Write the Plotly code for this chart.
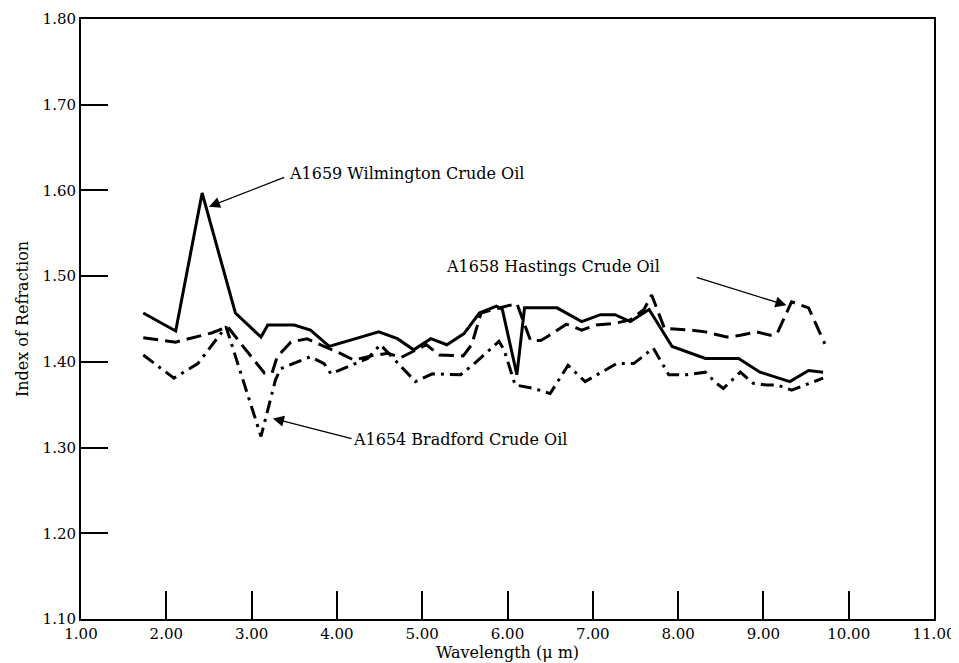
import plotly.graph_objects as go

# ---- data ----
wil_x = [1.73, 2.11, 2.42, 2.81, 3.11, 3.19, 3.50, 3.69, 3.91, 4.49, 4.71, 4.90, 5.10, 5.29, 5.49,
         5.67, 5.87, 5.94, 6.11, 6.20, 6.58, 6.87, 7.09, 7.26, 7.44, 7.66, 7.93, 8.32, 8.71, 8.96,
         9.31, 9.53, 9.70]
wil_y = [1.457, 1.436, 1.597, 1.457, 1.429, 1.443, 1.443, 1.437, 1.418, 1.435, 1.427, 1.414, 1.427,
         1.420, 1.433, 1.457, 1.465, 1.461, 1.385, 1.463, 1.463, 1.447, 1.455, 1.455, 1.447, 1.461,
         1.418, 1.404, 1.404, 1.388, 1.377, 1.390, 1.388]

has_x = [1.73, 2.11, 2.54, 2.72, 2.90, 3.15, 3.24, 3.30, 3.46, 3.65, 3.85, 4.04, 4.20, 4.40, 4.60,
         4.75, 4.95, 5.05, 5.20, 5.48, 5.58, 5.69, 5.87, 6.11, 6.27, 6.39, 6.46, 6.69, 6.87, 7.04,
         7.26, 7.44, 7.60, 7.69, 7.84, 8.15, 8.32, 8.57, 8.73, 8.92, 9.08, 9.16, 9.33, 9.53, 9.72]
has_y = [1.428, 1.423, 1.434, 1.441, 1.418, 1.387, 1.387, 1.406, 1.423, 1.427, 1.418, 1.410, 1.402,
         1.407, 1.410, 1.405, 1.415, 1.420, 1.408, 1.407, 1.420, 1.457, 1.462, 1.468, 1.425, 1.425,
         1.429, 1.444, 1.437, 1.443, 1.445, 1.449, 1.461, 1.478, 1.439, 1.437, 1.435, 1.429, 1.431,
         1.435, 1.431, 1.433, 1.470, 1.463, 1.421]

bra_x = [1.73, 2.09, 2.37, 2.70, 3.11, 3.28, 3.34, 3.69, 3.85, 3.93, 4.36, 4.51, 4.92, 5.12, 5.45,
         5.60, 5.90, 5.96, 6.09, 6.31, 6.50, 6.71, 6.91, 7.11, 7.28, 7.48, 7.71, 7.89, 8.10, 8.32,
         8.45, 8.53, 8.73, 8.88, 9.04, 9.16, 9.33, 9.70]
bra_y = [1.408, 1.381, 1.398, 1.441, 1.313, 1.379, 1.392, 1.406, 1.398, 1.386, 1.404, 1.420, 1.377,
         1.386, 1.385, 1.397, 1.424, 1.414, 1.373, 1.369, 1.363, 1.396, 1.377, 1.388, 1.398, 1.398,
         1.416, 1.385, 1.385, 1.388, 1.375, 1.369, 1.388, 1.375, 1.373, 1.373, 1.367, 1.381]

x_ticks = [1, 2, 3, 4, 5, 6, 7, 8, 9, 10, 11]
x_tick_labels = ["1.00", "2.00", "3.00", "4.00", "5.00", "6.00", "7.00", "8.00", "9.00", "10.00", "11.00"]
y_ticks = [1.1, 1.2, 1.3, 1.4, 1.5, 1.6, 1.7, 1.8]
y_tick_labels = ["1.10", "1.20", "1.30", "1.40", "1.50", "1.60", "1.70", "1.80"]

FONT = "DejaVu Serif"
INK = "#000000"

fig = go.Figure()
fig.add_trace(go.Scatter(x=wil_x, y=wil_y, mode="lines",
                         line=dict(color=INK, width=3), name="A1659 Wilmington Crude Oil"))
fig.add_trace(go.Scatter(x=has_x, y=has_y, mode="lines",
                         line=dict(color=INK, width=3, dash="15px,7px"), name="A1658 Hastings Crude Oil"))
fig.add_trace(go.Scatter(x=bra_x, y=bra_y, mode="lines",
                         line=dict(color=INK, width=3, dash="13px,6px,3px,6px"), name="A1654 Bradford Crude Oil"))

# arrows (head at x,y; tail at ax,ay in data units)
arrows = [
    dict(x=2.50, y=1.581, ax=3.40, ay=1.616),
    dict(x=9.27, y=1.466, ax=8.20, ay=1.499),
    dict(x=3.25, y=1.334, ax=4.19, ay=1.310),
]
for a in arrows:
    fig.add_annotation(x=a["x"], y=a["y"], ax=a["ax"], ay=a["ay"], xref="x", yref="y",
                       axref="x", ayref="y", text="", showarrow=True, arrowhead=2,
                       arrowsize=1.7, arrowwidth=1.3, arrowcolor=INK, standoff=0)

labels = [
    dict(x=3.42, y=1.620, text="A1659 Wilmington Crude Oil"),
    dict(x=5.26, y=1.511, text="A1658 Hastings Crude Oil"),
    dict(x=4.17, y=1.309, text="A1654 Bradford Crude Oil"),
]
for l in labels:
    fig.add_annotation(x=l["x"], y=l["y"], text=l["text"], showarrow=False, xanchor="left",
                       yanchor="middle", font=dict(family=FONT, size=16, color=INK))

# the page body adds an 8px offset, so the figure is sized to fill the rest of the window
fig.update_layout(
    width=951, height=655,
    margin=dict(l=73, r=25, t=11, b=44),
    paper_bgcolor="white", plot_bgcolor="white",
    showlegend=False,
    font=dict(family=FONT, color=INK),
)
fig.update_xaxes(range=[1, 11], tickvals=x_ticks, ticktext=x_tick_labels, automargin=False,
                 showgrid=False, zeroline=False, showline=True, linewidth=2, linecolor=INK,
                 mirror=True, ticks="inside", ticklen=28, tickwidth=1.5, tickcolor=INK,
                 tickfont=dict(family=FONT, size=15, color=INK),
                 title=dict(text="Wavelength (μ m)", font=dict(family=FONT, size=16, color=INK), standoff=0))
fig.update_yaxes(range=[1.1, 1.8], tickvals=y_ticks, ticktext=y_tick_labels, automargin=False,
                 showgrid=False, zeroline=False, showline=True, linewidth=2, linecolor=INK,
                 mirror=True, ticks="inside", ticklen=27, tickwidth=1.5, tickcolor=INK,
                 tickfont=dict(family=FONT, size=15, color=INK),
                 title=dict(text="Index of Refraction", font=dict(family=FONT, size=16, color=INK), standoff=10))

fig.write_html("out.html")
